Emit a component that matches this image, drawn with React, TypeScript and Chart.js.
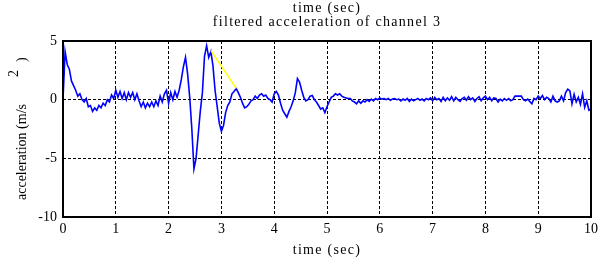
import React, { useEffect, useRef } from "react";
import { Chart, registerables } from "chart.js";

Chart.register(...registerables);

// sampling interval of the recorded signal (seconds)
const SAMPLE_STEP = 0.04;

// filtered acceleration of channel 3 (m/s^2), one value per sample
const accel: number[] = [
  0, 4.1, 3.0, 2.6, 1.6, 1.2, 0.8, 0.3, 0.5, 0.0,
  -0.2, 0.1, -0.6, -0.5, -1.0, -0.7, -0.9, -0.5, -0.7, -0.3,
  -0.5, 0.0, -0.2, 0.4, 0.1, 0.8, 0.2, 0.7, 0.1, 0.6,
  0.0, 0.6, 0.2, 0.6, 0.0, 0.5, -0.1, -0.6, -0.2, -0.7,
  -0.3, -0.6, -0.2, -0.6, -0.1, -0.5, 0.3, -0.2, 0.5, 0.8,
  -0.3, 0.6, 0.0, 0.7, 0.2, 0.8, 1.7, 2.8, 3.6, 2.2,
  0.2, -2.5, -5.9, -5.0, -3.0, -1.0, 0.6, 3.7, 4.6, 3.6,
  4.1, 2.9, 0.8, -0.6, -2.0, -2.7, -2.2, -1.1, -0.5, -0.2,
  0.5, 0.7, 0.95, 0.6, 0.2, -0.3, -0.7, -0.6, -0.4, -0.1,
  0.0, 0.3, 0.1, 0.4, 0.5, 0.3, 0.4, 0.1, 0.0, -0.2,
  0.5, 0.7, 0.4, -0.3, -0.9, -1.2, -1.5, -1.0, -0.6, -0.1,
  0.6, 1.8, 1.5, 0.8, 0.2, -0.1, 0.0, 0.3, 0.35, 0.0,
  -0.2, -0.5, -0.8, -0.7, -1.1, -0.6, -0.2, 0.2, 0.3, 0.5,
  0.4, 0.5, 0.3, 0.2, 0.15, 0.1, 0.1, -0.1, -0.2, -0.35,
  -0.1, -0.3, -0.1, -0.2, 0.0, -0.15, 0.05, -0.1, 0.1, 0.0,
  0.15, 0.05, 0.1, 0.0, 0.1, -0.05, 0.05, 0.1, 0.0, 0.05,
  -0.1, 0.05, -0.05, 0.1, -0.15, 0.05, -0.1, 0.0, 0.1, -0.05,
  0.05, -0.1, 0.1, 0.0, 0.15, -0.1, 0.2, 0.0, 0.1, -0.15,
  0.2, -0.1, 0.15, -0.05, 0.25, -0.1, 0.2, 0.0, -0.15, 0.1,
  0.2, -0.05, 0.25, 0.0, 0.15, -0.15, 0.1, 0.25, -0.1, 0.15,
  0.3, 0.0, 0.2, -0.1, 0.15, 0.1, -0.2, 0.05, -0.1, 0.1,
  -0.05, 0.1, -0.1, 0.0, 0.3, 0.3, 0.3, 0.3, 0.0, -0.1,
  0.05, -0.15, -0.35, 0.1, 0.0, 0.3, 0.1, 0.35, 0.0, 0.2,
  0.1, -0.2, 0.3, -0.1, -0.2, -0.1, 0.3, -0.1, 0.6, 0.9,
  0.75, -0.35, 0.45, -0.2, 0.2, -0.4, 0.5, -0.65, -0.1, -0.9,
  -0.8,
];

// sample times (s)
const times: number[] = accel.map((_, i) => Math.round(i * SAMPLE_STEP * 100) / 100);

// yellow connecting segment
const yellowTimes: number[] = [2.8, 3.28];
const yellowAccel: number[] = [4.2, 0.96];

// axes
const xMin = 0;
const xMax = 10;
const xStep = 1;
const yMin = -10;
const yMax = 5;
const yStep = 5;

const titleLines: string[] = ["time (sec)", "filtered acceleration of channel 3"];
const xTitle = "time (sec)";
const yTitleMain = "acceleration (m/s";
const yTitleSup = "2";
const yTitleEnd = ")";

const FONT = '14px "Liberation Serif", "Times New Roman", serif';

const textPlugin = {
  id: "matlabText",
  afterDraw(chart: any) {
    const { ctx, chartArea } = chart;
    const { left, right, top, bottom } = chartArea;
    const cx = (left + right) / 2;
    ctx.save();
    // frame
    ctx.strokeStyle = "#000";
    ctx.lineWidth = 2;
    ctx.setLineDash([]);
    ctx.strokeRect(left, top, right - left, bottom - top);
    // titles
    ctx.fillStyle = "#000";
    ctx.font = FONT;
    ctx.textAlign = "center";
    ctx.textBaseline = "alphabetic";
    ctx.letterSpacing = "1.3px";
    ctx.fillText(titleLines[0], cx, 12);
    ctx.fillText(titleLines[1], cx, 26);
    ctx.fillText(xTitle, cx, 254);
    // y title (rotated)
    ctx.letterSpacing = "0px";
    ctx.translate(26, 0);
    ctx.rotate(-Math.PI / 2);
    ctx.textAlign = "left";
    ctx.fillText(yTitleMain, -200, 0);
    ctx.fillText(yTitleSup, -77, -8);
    ctx.fillText(yTitleEnd, -62, 0);
    ctx.restore();
  },
};

export default function App() {
  const ref = useRef<HTMLCanvasElement | null>(null);
  useEffect(() => {
    if (!ref.current) return;
    const chart = new Chart(ref.current, {
      type: "line",
      data: {
        datasets: [
          {
            data: yellowTimes.map((t, i) => ({ x: t, y: yellowAccel[i] })),
            borderColor: "#ffff00",
            borderWidth: 1.5,
            pointRadius: 0,
            tension: 0,
          },
          {
            data: times.map((t, i) => ({ x: t, y: accel[i] })),
            borderColor: "#0000ff",
            borderWidth: 1.6,
            pointRadius: 0,
            tension: 0,
          },
        ],
      },
      options: {
        animation: false,
        responsive: false,
        maintainAspectRatio: false,
        events: [],
        layout: { padding: { top: 41, right: 8, bottom: 0, left: 0 } },
        plugins: {
          legend: { display: false },
          title: { display: false },
          tooltip: { enabled: false },
        },
        scales: {
          x: {
            type: "linear",
            min: xMin,
            max: xMax,
            ticks: {
              stepSize: xStep,
              color: "#000",
              font: { family: '"Liberation Serif"', size: 14 },
              padding: 4,
              maxRotation: 0,
            },
            grid: { color: "#000", lineWidth: 1, drawTicks: false },
            border: { display: false, dash: [3, 2] },
            afterFit: (s: any) => {
              s.height = 48;
              s.paddingLeft = 0;
              s.paddingRight = 0;
            },
          },
          y: {
            type: "linear",
            min: yMin,
            max: yMax,
            ticks: {
              stepSize: yStep,
              color: "#000",
              font: { family: '"Liberation Serif"', size: 14 },
              padding: 6,
            },
            grid: { color: "#000", lineWidth: 1, drawTicks: false },
            border: { display: false, dash: [3, 2] },
            afterFit: (s: any) => {
              s.width = 63;
              s.paddingTop = 0;
              s.paddingBottom = 0;
            },
          },
        },
      },
      plugins: [textPlugin],
    });
    return () => chart.destroy();
  }, []);
  return (
    <div style={{ position: "fixed", left: 0, top: 0, width: 599, height: 265, background: "#fff" }}>
      <canvas ref={ref} width={599} height={265} style={{ width: 599, height: 265 }} />
    </div>
  );
}
